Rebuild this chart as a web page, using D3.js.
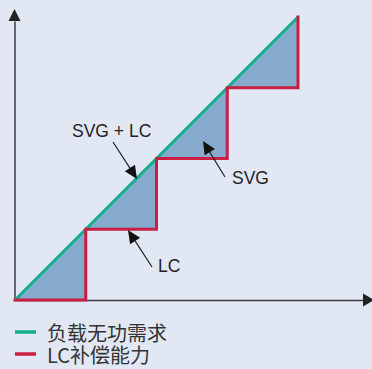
<!DOCTYPE html>
<html>
<head>
<meta charset="utf-8">
<script src="https://cdn.jsdelivr.net/npm/d3@7"></script>
<style>
  html, body { margin: 0; padding: 0; background: #e1e8f4; }
  svg { display: block; }
</style>
</head>
<body>
<svg id="chart" width="372" height="369"></svg>
<script>
// ---- data ----
const demandX = [0, 4];
const demandY = [0, 4];
const lcX = [0, 1, 2, 3, 4];
const lcY = [0, 1, 2, 3, 4];
const legendLabels = ["负载无功需求", "LC补偿能力"];
const annotationLabels = ["SVG + LC", "SVG", "LC"];

// ---- layout ----
const W = 372, H = 369;
const svg = d3.select("#chart");
const x = d3.scaleLinear().domain([0, 4]).range([15, 298]);
const y = d3.scaleLinear().domain([0, 4]).range([300, 17]);

const colors = { demand: "#12ae8e", lc: "#c81f42", fill: "#86aacb", axis: "#3c3c3c", text: "#222" };

// axes (no ticks) via d3 axes
const xAxisScale = x.copy().domain([0, x.invert(364)]).range([14.5, 364]);
const yAxisScale = y.copy().domain([0, y.invert(21)]).range([300, 21]);
svg.append("g").attr("transform", "translate(0,300)")
  .call(d3.axisBottom(xAxisScale).tickValues([]).tickSizeOuter(0))
  .call(g => g.select(".domain").attr("stroke", colors.axis).attr("stroke-width", 1.5));
svg.append("g").attr("transform", "translate(14.5,0)")
  .call(d3.axisLeft(yAxisScale).tickValues([]).tickSizeOuter(0))
  .call(g => g.select(".domain").attr("stroke", colors.axis).attr("stroke-width", 1.5));
// axis arrowheads
svg.append("path").attr("d", "M363,293.5 L374,300 L363,306.5 Z").attr("fill", "#222");
svg.append("path").attr("d", "M8.5,21 L14.5,9 L20.5,21 Z").attr("fill", "#222");

// data points
const demand = demandX.map((d, i) => [d, demandY[i]]);
const lc = lcX.map((d, i) => [d, lcY[i]]);

// staircase vertices (step-after)
const stairs = [];
lc.forEach((p, i) => {
  stairs.push(p);
  if (i < lc.length - 1) stairs.push([lc[i + 1][0], p[1]]);
});

const line = d3.line().x(d => x(d[0])).y(d => y(d[1]));

// fill polygon between demand and LC staircase
const poly = demand.concat(stairs.slice().reverse());
svg.append("path").attr("d", line(poly) + "Z").attr("fill", colors.fill);

// demand line
svg.append("path").attr("d", line(demand))
  .attr("fill", "none").attr("stroke", colors.demand).attr("stroke-width", 3);

// LC staircase
svg.append("path")
  .attr("d", d3.line().x(d => x(d[0])).y(d => y(d[1])).curve(d3.curveStepAfter)(lc))
  .attr("fill", "none").attr("stroke", colors.lc).attr("stroke-width", 3)
  .attr("stroke-linejoin", "miter").attr("stroke-linecap", "square");

// annotations
const ann = [
  { text: annotationLabels[0], tx: 72, ty: 137, from: [113, 142], to: [137, 179] },
  { text: annotationLabels[1], tx: 232, ty: 184, from: [225, 177], to: [203, 141] },
  { text: annotationLabels[2], tx: 158, ty: 272, from: [152, 267], to: [128, 230] }
];
ann.forEach(a => {
  svg.append("text").attr("x", a.tx).attr("y", a.ty)
    .attr("font-family", "'Liberation Sans', Arial, sans-serif").attr("font-size", 17.5)
    .attr("fill", colors.text).text(a.text);
  const dx = a.to[0] - a.from[0], dy = a.to[1] - a.from[1];
  const len = Math.hypot(dx, dy), ux = dx / len, uy = dy / len;
  const L = 13, hw = 6;
  const bx = a.to[0] - ux * L, by = a.to[1] - uy * L;
  svg.append("line").attr("x1", a.from[0]).attr("y1", a.from[1]).attr("x2", bx).attr("y2", by)
    .attr("stroke", "#222").attr("stroke-width", 1.2);
  svg.append("path")
    .attr("d", `M${a.to[0]},${a.to[1]} L${bx - uy * hw},${by + ux * hw} L${bx + uy * hw},${by - ux * hw} Z`)
    .attr("fill", "#111");
});

// legend
const legendColors = [colors.demand, colors.lc];
const lg = svg.append("g");
legendLabels.forEach((t, i) => {
  const yy = 332 + i * 22;
  lg.append("line").attr("x1", 15).attr("x2", 36).attr("y1", yy).attr("y2", yy)
    .attr("stroke", legendColors[i]).attr("stroke-width", 3.5);
  lg.append("text").attr("x", 47).attr("y", yy + 8.5)
    .attr("font-family", "'Noto Sans CJK SC', 'Noto Sans', sans-serif").attr("font-size", 20)
    .attr("fill", "#333").text(t);
});
</script>
</body>
</html>
